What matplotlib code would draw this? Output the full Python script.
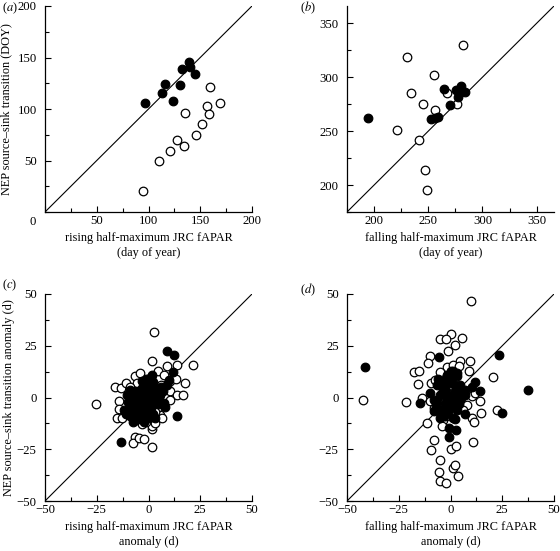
import matplotlib
matplotlib.use("Agg")
import matplotlib.pyplot as plt
from matplotlib.ticker import MultipleLocator
import numpy as np

plt.rcParams['font.family'] = ['Liberation Serif', 'DejaVu Serif']
plt.rcParams['mathtext.fontset'] = 'stix'

# ---- panel (a): rising, day of year ----
a_fill_x = [96.8, 113.5, 115.5, 123.5, 130.6, 132.6, 138.7, 140.3, 145.2]
a_fill_y = [106.0, 115.7, 123.8, 107.6, 123.2, 138.7, 145.2, 141.0, 133.9]
a_open_x = [94.5, 109.7, 120.3, 127.4, 133.9, 134.8, 145.5, 151.9, 156.1, 158.0, 159.0, 169.0]
a_open_y = [20.7, 49.3, 59.0, 70.3, 64.2, 96.0, 74.6, 85.9, 103.0, 94.7, 121.0, 106.3]

# ---- panel (b): falling, day of year ----
b_fill_x = [194.4, 252.5, 256.2, 259.3, 264.5, 270.0, 275.6, 277.8, 280.2, 284.3, 279.0]
b_fill_y = [262.4, 260.9, 262.1, 262.7, 289.1, 273.8, 287.8, 281.4, 291.8, 286.6, 289.0]
b_open_x = [230.6, 282.4, 255.2, 234.3, 267.0, 245.4, 255.9, 276.2, 220.7, 241.0, 246.9, 248.8]
b_open_y = [318.8, 329.5, 301.9, 285.1, 285.7, 274.7, 269.5, 274.7, 251.1, 241.6, 214.1, 195.4]

# ---- panel (c): rising anomaly ----
c_open_x = [-25.2, 2.7, 1.9, 21.5, -16.1, -13.4, -11.0, -6.5, -4.0, -5.6, -14.2, -14.2, -15.0,
            -12.6, -6.6, -7.3, -4.5, -2.1, 1.9, 1.6, 1.6, 3.2, 5.6, 6.5, 8.9, 4.8, 7.3, 10.5,
            13.2, 14.0, 10.5, 13.7, 16.9, 17.7, 10.5, 4.0, -9.0, -1.0, 6.0, 3.0, -3.0, 0.5]
c_open_y = [-3.2, 31.6, 17.4, 15.5, 5.3, 4.5, 6.9, 10.2, 11.8, 6.9, -1.9, -5.5, -9.7,
            -9.7, -18.9, -21.8, -19.7, -20.0, -23.7, -15.3, -14.0, -12.4, -8.4, -10.0, 15.0,
            12.6, 11.0, 8.1, 9.0, 15.5, 2.9, 1.3, 1.0, 6.9, -1.1, -5.2, 5.0, -12.0, 6.0, -7.0,
            -13.0, 9.0]
c_fill_x = [8.9, 12.1, 11.8, 13.7, -13.4, -10.5, -8.9, -8.1, -9.7, -7.3, -4.0, -2.4, -0.8,
            0.0, -1.6, -3.2, 1.6, 0.8, 2.4, 4.0, 5.6, 7.3, 8.1, 3.2, 9.7, -0.8, -4.8, -6.5,
            -4.0, 1.6, 4.0, -6.5, -3.2, 0.0, 2.4, 4.8, -2.4,
            -11.0, -12.0, -9.0, -6.0, -5.0, -7.0, -2.0, 0.0, 2.0, 1.0, -1.0, 3.0, 5.0, 6.0,
            -3.0, 1.0, 3.0, -5.0, 7.0, -10.0, -8.0, 1.5, -1.0, 9.0, -6.0, -4.0]
c_fill_y = [22.6, 20.6, 12.3, -8.7, -21.3, 1.3, 3.7, -4.4, -6.8, -11.6, -10.0, -8.4, -6.8,
            -3.5, -0.3, -1.9, 3.7, 6.9, 7.7, 4.5, 1.3, -2.7, -4.4, -10.0, 8.5, 2.1, 1.3, -1.9,
            -5.2, -1.1, 0.5, 2.9, 4.5, 6.1, 2.9, -1.9, -4.4,
            -8.0, -6.0, -9.0, -8.0, -6.0, -3.0, -12.0, -10.0, -8.0, -5.0, 0.0, 2.0, -3.0, 5.0,
            8.0, 10.0, -2.0, 3.0, 3.0, -2.0, 0.0, 11.0, 9.0, 6.0, -11.0, -7.0]

# ---- panel (d): falling anomaly ----
d_open_x = [-42.3, -21.7, 10.1, 0.3, -5.3, -2.2, 5.5, 2.1, -1.3, -10.0, -10.8, 4.7, 9.5, -1.8,
            -17.4, -15.4, -15.9, -9.5, -7.7, -5.3, 1.4, 3.9, 8.7, 20.3, -13.8, -11.4, -8.2,
            -9.3, -5.3, -5.5, -5.3, -2.2, 0.2, 2.6, 1.4, 2.3, 3.4, 10.8, 10.3, 11.3, 14.8,
            14.3, 10.3, 7.9, 22.3, -9.8, -3.4, -4.2, -8.2, 6.0, 12.0, -2.0]
d_open_y = [-1.3, -2.4, 46.5, 30.8, 28.4, 28.4, 28.7, 25.2, 22.6, 20.2, 16.8, 17.7, 17.7, 14.5,
            12.3, 12.6, 6.6, 6.9, 8.5, 12.3, 15.8, 15.0, 12.6, 9.8, -0.3, -12.4, -20.5,
            -25.3, -30.2, -36.1, -40.3, -41.5, -25.0, -23.4, -34.2, -32.6, -37.7, -21.6, -10.0,
            -11.6, -7.6, -1.9, 0.5, -3.5, -6.0, -1.9, -10.8, -14.0, -5.2, -6.0, 2.0, -9.0]
d_fill_x = [-41.2, -14.6, -5.5, 23.6, 37.6, 24.8, -0.5, 2.6, -0.5, 6.8, 11.6, 14.3, 10.3, -9.8,
            2.3, -5.3, -7.9, -1.8, 1.4, 3.1, -0.2, -3.4, -6.6, -5.0, -1.8, 1.4, 4.7, 6.3, -2.6,
            0.6, 3.1, -4.2, -1.0, 4.7, 7.1, -6.6,
            -3.0, 0.0, 2.0, -4.0, -2.0, 1.0, 3.0, -1.0, 5.0, 7.0, -7.0, -5.0, 3.0, 0.0, -2.0,
            2.0, 4.0, -6.0, -8.0, -3.0, 1.0]
d_fill_y = [14.7, -2.7, 19.8, 20.6, 3.7, -7.3, -18.9, -15.6, -14.8, -8.1, 7.7, 3.2, 5.3, 2.1,
            -10.3, -9.7, -6.5, 11.0, 12.6, 10.2, 6.9, 4.5, 6.1, 1.3, -0.3, 1.3, 2.9, 2.1, -3.5,
            -4.4, -1.9, -6.0, -7.6, 6.1, 3.7, -1.9,
            8.0, 9.0, 6.0, 2.0, 3.0, -2.0, -6.0, -5.0, 0.0, 1.0, -4.0, -7.0, 12.0, 13.0, -2.0,
            3.0, -3.0, 9.0, -1.0, -9.0, -10.0]

fig = plt.figure(figsize=(5.6, 5.51), dpi=100)
W, H = 560.0, 551.0

def make_ax(l, t, r, b):
    return fig.add_axes([l / W, 1 - b / H, (r - l) / W, (b - t) / H])

axa = make_ax(45, 6, 252, 212)
axb = make_ax(347, 6, 554, 212)
axc = make_ax(45, 294, 252, 501)
axd = make_ax(347, 294, 554, 501)

TFS = 9.2
LFS = 8.8
MS = 38

def style(ax, lim, major, minor, ticks):
    ax.set_xlim(lim)
    ax.set_ylim(lim)
    ax.plot(lim, lim, color='black', lw=0.8, zorder=1)
    for s in ['top', 'right']:
        ax.spines[s].set_visible(False)
    for s in ['left', 'bottom']:
        ax.spines[s].set_linewidth(0.9)
    ax.xaxis.set_minor_locator(MultipleLocator(minor))
    ax.yaxis.set_minor_locator(MultipleLocator(minor))
    ax.set_xticks(ticks)
    ax.set_yticks(ticks)
    ax.tick_params(which='major', direction='in', length=4, width=0.8, labelsize=TFS)
    ax.tick_params(which='minor', direction='in', length=3, width=0.8)
    ax.tick_params(axis='x', which='major', pad=2)
    ax.tick_params(axis='y', which='major', pad=6)

def pts(ax, ox, oy, fx, fy):
    ax.scatter(ox, oy, s=MS, facecolor='white', edgecolor='black', linewidths=0.9, zorder=3, clip_on=False)
    ax.scatter(fx, fy, s=MS, facecolor='black', edgecolor='black', linewidths=0.9, zorder=4, clip_on=False)

XLP = 4
# (a)
style(axa, (0, 200), 50, 25, [0, 50, 100, 150, 200])
axa.set_yticks([50, 100, 150, 200])
pts(axa, a_open_x, a_open_y, a_fill_x, a_fill_y)
axa.annotate('0', xy=(0, 0), xycoords='data', xytext=(-9, -10), textcoords='offset pixels',
             ha='right', va='center', fontsize=TFS)
axa.set_xticklabels(['', '50', '100', '150', '200'])
axa.set_xlabel('rising half-maximum JRC fAPAR\n(day of year)', fontsize=LFS, labelpad=XLP,
               linespacing=1.3)
axa.set_ylabel('NEP source\u2013sink transition (DOY)', fontsize=LFS, labelpad=4)

# (b)
style(axb, (175, 366), 50, 25, [200, 250, 300, 350])
pts(axb, b_open_x, b_open_y, b_fill_x, b_fill_y)
axb.set_xlabel('falling half-maximum JRC fAPAR\n(day of year)', fontsize=LFS, labelpad=XLP,
               linespacing=1.3)

# (c)
style(axc, (-50, 50), 25, 12.5, [-50, -25, 0, 25, 50])
pts(axc, c_open_x, c_open_y, c_fill_x, c_fill_y)
axc.set_xlabel('rising half-maximum JRC fAPAR\nanomaly (d)', fontsize=LFS, labelpad=XLP,
               linespacing=1.3)
axc.set_ylabel('NEP source\u2013sink transition anomaly (d)', fontsize=LFS, labelpad=1)

# (d)
style(axd, (-50, 50), 25, 12.5, [-50, -25, 0, 25, 50])
pts(axd, d_open_x, d_open_y, d_fill_x, d_fill_y)
axd.set_xlabel('falling half-maximum JRC fAPAR\nanomaly (d)', fontsize=LFS, labelpad=XLP,
               linespacing=1.3)

# panel letters
for (px, py, letter) in [(2, 8, 'a'), (300, 8, 'b'), (2, 285, 'c'), (300, 290, 'd')]:
    fig.text(px / W, 1 - py / H, '(' + r'$\it{' + letter + '}$' + ')', fontsize=9,
             ha='left', va='center')

fig.savefig('out.png', dpi=100)
